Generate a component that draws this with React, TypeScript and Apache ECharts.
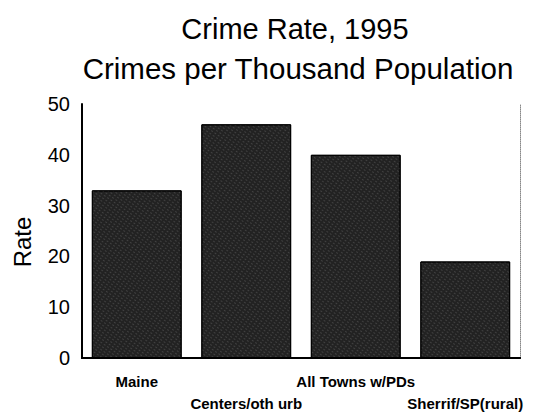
import React, { useEffect, useRef } from "react";
import * as echarts from "echarts";

const categories = ["Maine", "Centers/oth urb", "All Towns w/PDs", "Sherrif/SP(rural)"];
const rates = [33, 46, 40, 19];
const yTicks = { min: 0, max: 50, interval: 10 };
const titleText = "Crime Rate, 1995";
const subtitleText = "Crimes per Thousand Population";
const yName = "Rate";

const FONT = "'Liberation Sans', Arial, sans-serif";

export default function App() {
  const ref = useRef<HTMLDivElement>(null);
  useEffect(() => {
    if (!ref.current) return;
    const chart = echarts.init(ref.current, undefined, { renderer: "svg" });
    chart.setOption({
      animation: false,
      backgroundColor: "#ffffff",
      title: [
        {
          text: titleText,
          left: 290,
          top: 9,
          textAlign: "center",
          textStyle: { fontFamily: FONT, fontSize: 29, fontWeight: "normal", color: "#000" },
        },
        {
          text: subtitleText,
          left: 293,
          top: 48,
          textAlign: "center",
          textStyle: { fontFamily: FONT, fontSize: 29.5, fontWeight: "normal", color: "#000" },
        },
      ],
      graphic: [
        {
          type: "text",
          x: 22,
          y: 242,
          rotation: Math.PI / 2,
          style: {
            text: yName,
            fontFamily: FONT,
            fontSize: 24,
            fill: "#000",
            align: "center",
            verticalAlign: "middle",
          },
        },
      ],
      grid: { left: 82, right: 18, top: 104, bottom: 52, containLabel: false },
      xAxis: [
        {
          type: "category",
          data: categories,
          position: "bottom",
          axisLine: { show: true, lineStyle: { color: "#000", width: 2 } },
          axisTick: { show: false },
          axisLabel: {
            interval: 0,
            margin: 12,
            fontFamily: FONT,
            fontSize: 15,
            fontWeight: "bold",
            color: "#000",
            lineHeight: 22,
            formatter: (v: string, i: number) => (i % 2 === 1 ? "\n" + v : v),
          },
        },
        {
          type: "category",
          data: categories,
          position: "top",
          axisLine: { show: true, lineStyle: { color: "#000", width: 2 } },
          axisTick: { show: false },
          axisLabel: { show: false },
        },
      ],
      yAxis: [
        {
          type: "value",
          min: yTicks.min,
          max: yTicks.max,
          interval: yTicks.interval,
          axisLine: { show: true, lineStyle: { color: "#000", width: 2 } },
          axisTick: { show: false },
          splitLine: { show: false },
          axisLabel: { fontFamily: FONT, fontSize: 20, color: "#000", margin: 12 },
        },
        {
          type: "value",
          min: yTicks.min,
          max: yTicks.max,
          interval: yTicks.interval,
          position: "right",
          axisLine: { show: true, lineStyle: { color: "#888", width: 1, type: "dotted" } },
          axisTick: { show: false },
          splitLine: { show: false },
          axisLabel: { show: false },
        },
      ],
      series: [
        {
          type: "bar",
          data: rates,
          xAxisIndex: 0,
          yAxisIndex: 0,
          barCategoryGap: "18%",
          itemStyle: {
            color: "#222222",
            borderColor: "#000",
            borderWidth: 1,
            decal: {
              symbol: "rect",
              symbolSize: 0.6,
              color: "rgba(255,255,255,0.45)",
              dashArrayX: [2, 2],
              dashArrayY: [1, 2],
              rotation: 0.6,
            },
          },
        },
      ],
    });
    return () => chart.dispose();
  }, []);
  return <div ref={ref} style={{ width: 538, height: 414, position: "absolute", left: 0, top: 0 }} />;
}
